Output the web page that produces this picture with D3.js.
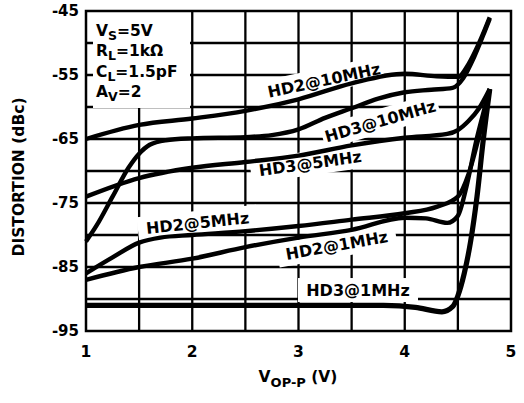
<!DOCTYPE html>
<html>
<head>
<meta charset="utf-8">
<script src="https://cdn.jsdelivr.net/npm/d3@7"></script>
<style>
  body { margin: 0; background: #fff; }
  text { font-family: "DejaVu Sans", sans-serif; font-weight: bold; fill: #000; }
</style>
</head>
<body>
<div id="chart-area"></div>
<script>
// values (x = VOP-P in volts, y = distortion in dBc)
const hd2_10_x = [1, 1.5, 2, 2.5, 3, 3.5, 4, 4.3, 4.5, 4.6, 4.7, 4.8];
const hd2_10_y = [-65, -62.8, -61.8, -60.6, -58.8, -56.3, -54.8, -55.2, -55.3, -53.3, -50, -46];

const hd3_10_x = [1, 1.1, 1.25, 1.4, 1.5, 1.6, 1.75, 2, 2.5, 2.75, 3, 3.25, 3.5, 3.75, 4, 4.25, 4.45, 4.55, 4.65, 4.75, 4.8];
const hd3_10_y = [-81, -78.5, -74, -69.5, -67.3, -65.9, -65.2, -64.9, -64.7, -64.4, -63.5, -61.7, -60.2, -58.7, -57.7, -57.3, -57, -55.5, -52.3, -48.3, -46.2];

const hd3_5_x = [1, 1.5, 2, 2.5, 3, 3.5, 4, 4.4, 4.5, 4.6, 4.7, 4.8];
const hd3_5_y = [-74, -71.1, -69.5, -68.6, -67.6, -66, -64.8, -64.2, -63.6, -62.2, -60.2, -57.2];

const hd2_5_x = [1, 1.25, 1.5, 1.7, 2, 2.5, 3, 3.5, 4, 4.3, 4.5, 4.6, 4.7, 4.8];
const hd2_5_y = [-86, -83.5, -81.2, -80.4, -80, -79.4, -78.6, -77.6, -76.6, -75.6, -74, -70.5, -64.5, -57.2];

const hd2_1_x = [1, 1.5, 2, 2.5, 3, 3.5, 4, 4.2, 4.4, 4.5, 4.58, 4.67, 4.75, 4.8];
const hd2_1_y = [-87, -85, -83.7, -81.9, -80.4, -79.2, -77.3, -77.4, -78.1, -77, -72.5, -65.5, -60.3, -57.2];

const hd3_1_x = [1, 2, 3, 3.8, 4.1, 4.35, 4.45, 4.5, 4.56, 4.62, 4.68, 4.74, 4.8];
const hd3_1_y = [-91, -91, -91, -91, -91.3, -92, -91.2, -89.5, -86, -81, -74, -65, -57.2];

const xTicks = [1, 2, 3, 4, 5];
const yTicks = [-45, -55, -65, -75, -85, -95];

// curve labels: text, position (volts, dBc), angle
const labelText = ["HD2@10MHz", "HD3@10MHz", "HD3@5MHz", "HD2@5MHz", "HD2@1MHz", "HD3@1MHz"];
const labelX = [3.24, 3.77, 3.11, 2.05, 3.36, 3.56];
const labelY = [-55.8, -62.2, -68.8, -78.1, -81.6, -88.6];
const labelAngle = [-12, -16, -8, -6, -10, 0];

const legendLines = [["V", "S", "=5V"], ["R", "L", "=1k\u03A9"], ["C", "L", "=1.5pF"], ["A", "V", "=2"]];

const svg = d3.select("#chart-area")
    .append("svg")
        .attr("width", 524)
        .attr("height", 403);

const x = d3.scaleLinear().domain([1, 5]).range([86, 511]);
const y = d3.scaleLinear().domain([-95, -45]).range([331, 11]);

// grid
svg.selectAll(".vgrid")
    .data(d3.range(1.5, 5, 0.5))
    .enter()
    .append("line")
        .attr("x1", d => x(d)).attr("x2", d => x(d))
        .attr("y1", y(-45)).attr("y2", y(-95))
        .attr("stroke", "#000").attr("stroke-width", 2.3);

svg.selectAll(".hgrid")
    .data(d3.range(-90, -45, 5))
    .enter()
    .append("line")
        .attr("x1", x(1)).attr("x2", x(5))
        .attr("y1", d => y(d)).attr("y2", d => y(d))
        .attr("stroke", "#000").attr("stroke-width", 2.3);

// white boxes behind the text
svg.append("rect")
    .attr("x", 93).attr("y", 11).attr("width", 97).attr("height", 97)
    .attr("fill", "#fff");

const labels = labelText.map((t, i) => ({ t: t, x: labelX[i], y: labelY[i], a: labelAngle[i] }));

svg.selectAll(".lblbox")
    .data(labels)
    .enter()
    .append("rect")
        .attr("x", -60).attr("y", -12).attr("width", 120).attr("height", 24)
        .attr("fill", "#fff")
        .attr("transform", d => `translate(${x(d.x)},${y(d.y)}) rotate(${d.a})`);

// frame
svg.append("rect")
    .attr("x", x(1)).attr("y", y(-45))
    .attr("width", x(5) - x(1)).attr("height", y(-95) - y(-45))
    .attr("fill", "none").attr("stroke", "#000").attr("stroke-width", 2.5);

// curves
const series = [
    [hd2_10_x, hd2_10_y], [hd3_10_x, hd3_10_y], [hd3_5_x, hd3_5_y],
    [hd2_5_x, hd2_5_y], [hd2_1_x, hd2_1_y], [hd3_1_x, hd3_1_y]
];

const line = d3.line()
    .x(d => x(d[0]))
    .y(d => y(d[1]))
    .curve(d3.curveMonotoneX);

svg.selectAll(".curve")
    .data(series)
    .enter()
    .append("path")
        .attr("d", s => line(s[0].map((v, i) => [v, s[1][i]])))
        .attr("fill", "none")
        .attr("stroke", "#000")
        .attr("stroke-width", (s, i) => i === 5 ? 5.2 : 4.4)
        .attr("stroke-linejoin", "round");

svg.selectAll(".lbl")
    .data(labels)
    .enter()
    .append("text")
        .attr("text-anchor", "middle")
        .attr("dy", "0.36em")
        .attr("font-size", 16)
        .attr("transform", d => `translate(${x(d.x)},${y(d.y)}) rotate(${d.a})`)
        .text(d => d.t);

// legend
legendLines.forEach((l, i) => {
    const t = svg.append("text")
        .attr("x", 96).attr("y", 36 + i * 20.4)
        .attr("font-size", 15.5);
    t.append("tspan").text(l[0]);
    t.append("tspan").attr("font-size", 12.5).attr("dy", 4).text(l[1]);
    t.append("tspan").attr("dy", -4).text(l[2]);
});

// tick labels
svg.selectAll(".ytick")
    .data(yTicks)
    .enter()
    .append("text")
        .attr("x", 79).attr("y", d => y(d))
        .attr("dy", "0.32em")
        .attr("text-anchor", "end")
        .attr("font-size", 15)
        .text(d => d);

svg.selectAll(".xtick")
    .data(xTicks)
    .enter()
    .append("text")
        .attr("x", d => x(d)).attr("y", 357)
        .attr("text-anchor", "middle")
        .attr("font-size", 15.5)
        .text(d => d);

// axis titles
svg.append("text")
    .attr("transform", "translate(24,177) rotate(-90)")
    .attr("text-anchor", "middle")
    .attr("font-size", 15.5)
    .text("DISTORTION (dBc)");

const xt = svg.append("text")
    .attr("x", 298).attr("y", 382)
    .attr("text-anchor", "middle")
    .attr("font-size", 15.5);
xt.append("tspan").text("V");
xt.append("tspan").attr("font-size", 13).attr("dy", 5).text("OP-P");
xt.append("tspan").attr("dy", -5).text(" (V)");
</script>
</body>
</html>
